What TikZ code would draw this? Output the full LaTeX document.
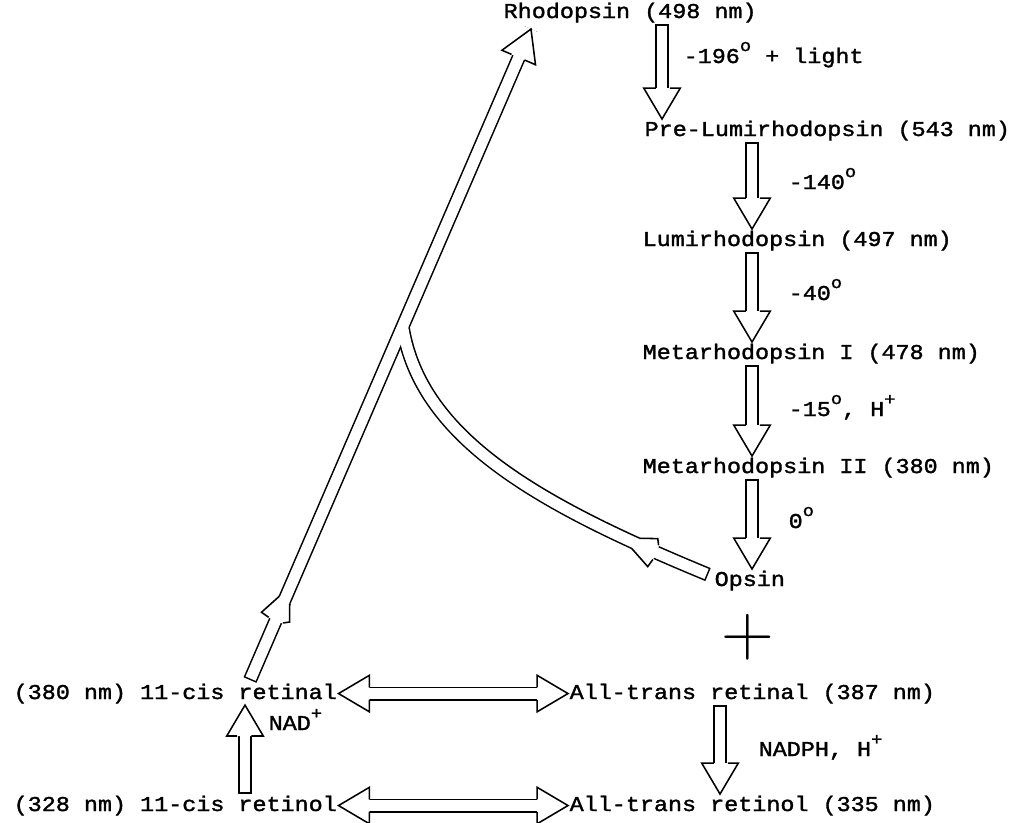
\documentclass[tikz,border=0pt]{standalone}
\usepackage{fontspec}
\setmainfont{Liberation Mono}[FakeStretch=1.11, FakeBold=1.6]
\newfontfamily\plusfont{Latin Modern Roman}
\usepackage{tikz}
\usetikzlibrary{calc}
\usetikzlibrary{decorations.markings}

\newcommand\tiplen{22pt}
\newcommand\tipwid{13pt}
\newcommand\pipeedge{4.45pt}
\newcommand\degsup{\raisebox{8.5pt}{\fontsize{12}{12}\selectfont o}}
\newcommand\plussup{\raisebox{8pt}{\fontsize{12}{12}\selectfont +}}

% hollow arrow head, tip at the origin, pointing along x
\newcommand\hollowtip{%
  \fill[white] (-\tiplen,-5.6pt) rectangle (0pt,5.6pt);
  \filldraw[fill=white, draw=black, line width=1.1pt, line join=miter]
    (-\tiplen,\pipeedge) -- (-\tiplen,\tipwid) -- (0,0) -- (-\tiplen,-\tipwid) -- (-\tiplen,-\pipeedge);}
\newcommand\hollowtipback{\begin{scope}[xscale=-1]\hollowtip\end{scope}}
% barbs half way along a hollow shaft
\newcommand\hollowbarb{%
  \fill[white] (0pt,3.6pt) -- (0pt,\pipeedge) -- (1.5pt,11.6pt) -- (17pt,\pipeedge) -- (17pt,3.6pt) -- cycle;
  \fill[white] (0pt,-3.6pt) -- (0pt,-\pipeedge) -- (3pt,-9.5pt) -- (15pt,-\pipeedge) -- (15pt,-3.6pt) -- cycle;
  \draw[black, line width=1.1pt, line join=miter] (0pt,\pipeedge) -- (1.5pt,11.6pt) -- (17pt,\pipeedge);
  \draw[black, line width=1.1pt, line join=miter] (0pt,-\pipeedge) -- (3pt,-9.5pt) -- (15pt,-\pipeedge);}

\begin{document}
\begin{tikzpicture}[x=0.025cm, y=-0.025cm,
  every node/.style={inner sep=1pt, font=\fontsize{15}{17}\selectfont},
  species/.style={anchor=base west},
  cond/.style={anchor=base west},
  pipe/.style={draw=black, line width=10pt},
  core/.style={draw=white, line width=7.8pt},
  closed/.style={shorten <=1.1pt},
  headend/.style={decoration={markings, mark=at position 1 with {\hollowtip}}, postaction=decorate},
  headboth/.style={decoration={markings, mark=at position 0 with {\hollowtipback}, mark=at position 1 with {\hollowtip}}, postaction=decorate}]

   \useasboundingbox (0,0) rectangle (1016,822);

   % bleaching
   \node[species] (rho) at (502,18) {Rhodopsin (498 nm)};
   \node[species] (prelumi) at (643,136) {Pre-Lumirhodopsin (543 nm)};
   \node[species] (lumi) at (641,246) {Lumirhodopsin (497 nm)};
   \node[species] (metaI) at (641,359) {Metarhodopsin I (478 nm)};
   \node[species] (metaII) at (641,473) {Metarhodopsin II (380 nm)};
   \node[species] (opsin) at (713,586) {Opsin};

   \node[cond] (clight) at (682,63) {-196\degsup{} + light};
   \node[cond] (c140) at (787,189) {-140\degsup};
   \node[cond] (c40) at (787,300) {-40\degsup};
   \node[cond] (c15) at (787,416) {-15\degsup, H\plussup};
   \node[cond] (c0) at (787,528) {0\degsup};

   % retinal cycle
   \node[species] (cisal) at (12,699) {(380 nm) 11-cis retinal};
   \node[species] (transal) at (568,699) {All-trans retinal (387 nm)};
   \node[species] (cisol) at (12,811) {(328 nm) 11-cis retinol};
   \node[species] (transol) at (568,811) {All-trans retinol (335 nm)};
   \node[cond] (cnadp) at (267,730) {NAD\plussup};
   \node[cond] (cnadph) at (757,756) {NADPH, H\plussup};
   \node (plus) at (748,637) {\plusfont\fontsize{52}{52}\selectfont +};

   \coordinate (c1) at (662,0);
   \coordinate (col) at (752,0);
   \coordinate (xnad) at (245,0);
   \coordinate (xnadph) at (720,0);
   \coordinate (dtail) at ($(cisal.north west)+(238,-2)$);
   \coordinate (dtip) at ($(rho.south west)+(29,5)$);
   \coordinate (junc) at ($(dtail)!0.543!(dtip)$);
   \coordinate (optail) at ($(opsin.west)+(-5,-6)$);

   % recombination
   \draw[pipe] (dtail) -- (dtip);
   \draw[pipe] (optail) .. controls +(-167,-69) and +(18,113) .. (junc);
   \draw[core, closed, decoration={markings, mark=at position 46pt with {\hollowbarb}, mark=at position 1 with {\hollowtip}}, postaction=decorate] (dtail) -- (dtip);
   \draw[core, closed, decoration={markings, mark=at position 40pt with {\hollowbarb}}, postaction=decorate] (optail) .. controls +(-167,-69) and +(18,113) .. (junc);

   \draw[pipe] (rho.south -| c1) -- (prelumi.north -| c1);
   \draw[core, closed, headend] (rho.south -| c1) -- (prelumi.north -| c1);
   \draw[pipe] (prelumi.south -| col) -- (lumi.north -| col);
   \draw[core, closed, headend] (prelumi.south -| col) -- (lumi.north -| col);
   \draw[pipe] (lumi.south -| col) -- (metaI.north -| col);
   \draw[core, closed, headend] (lumi.south -| col) -- (metaI.north -| col);
   \draw[pipe] (metaI.south -| col) -- (metaII.north -| col);
   \draw[core, closed, headend] (metaI.south -| col) -- (metaII.north -| col);
   \draw[pipe] (metaII.south -| col) -- (opsin.north -| col);
   \draw[core, closed, headend] (metaII.south -| col) -- (opsin.north -| col);

   \draw[pipe] (cisol.north -| xnad) -- (cisal.south -| xnad);
   \draw[core, closed, headend] (cisol.north -| xnad) -- (cisal.south -| xnad);
   \draw[pipe] (transal.south -| xnadph) -- (transol.north -| xnadph);
   \draw[core, closed, headend] (transal.south -| xnadph) -- (transol.north -| xnadph);

   \draw[pipe] (cisal.east) -- (transal.west);
   \draw[core, headboth] (cisal.east) -- (transal.west);
   \draw[pipe] (cisol.east) -- (transol.west);
   \draw[core, headboth] (cisol.east) -- (transol.west);
  \end{tikzpicture}
\end{document}
